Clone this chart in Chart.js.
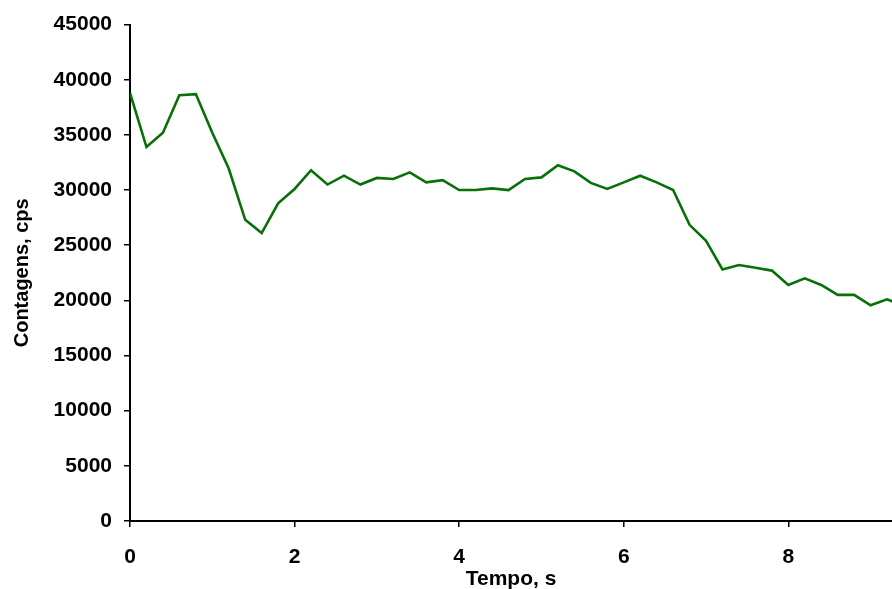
<!DOCTYPE html>
<html>
<head>
<meta charset="utf-8">
<script src="https://cdn.jsdelivr.net/npm/chart.js@4/dist/chart.umd.min.js"></script>
<style>
  html, body { margin: 0; padding: 0; background: #fff; }
  #wrap { width: 892px; height: 589px; }
</style>
</head>
<body>
<div id="wrap"><canvas id="myChart"></canvas></div>
<script>
// tempo (s) and contagens (cps)
const tempo = [0, 0.2, 0.4, 0.6, 0.8, 1.0, 1.2, 1.4, 1.6, 1.8,
    2.0, 2.2, 2.4, 2.6, 2.8, 3.0, 3.2, 3.4, 3.6, 3.8,
    4.0, 4.2, 4.4, 4.6, 4.8, 5.0, 5.2, 5.4, 5.6, 5.8,
    6.0, 6.2, 6.4, 6.6, 6.8, 7.0, 7.2, 7.4, 7.6, 7.8,
    8.0, 8.2, 8.4, 8.6, 8.8, 9.0, 9.2, 9.4]
const contagens = [38800, 33900, 35200, 38600, 38700, 35200, 31950, 27300, 26100, 28800,
    30100, 31800, 30500, 31300, 30500, 31100, 31000, 31600, 30700, 30900,
    30000, 30000, 30150, 30000, 31000, 31150, 32250, 31700, 30650, 30100,
    30700, 31300, 30700, 30000, 26850, 25400, 22800, 23200, 22950, 22700,
    21400, 22000, 21400, 20500, 20500, 19550, 20100, 19500]
const xTicks = [0, 2, 4, 6, 8]

const font = 'Liberation Sans, Arial, sans-serif'

document.addEventListener('DOMContentLoaded', () => {
    const points = tempo.map((t, i) => ({ x: t, y: contagens[i] }))
    const config = {
        type: 'line',
        data: {
            datasets: [{
                data: points,
                borderColor: '#077007',
                borderWidth: 2.6,
                pointRadius: 0,
                tension: 0,
                fill: false
            }]
        },
        options: {
            responsive: true,
            maintainAspectRatio: false,
            animation: false,
            layout: { padding: { top: 8, right: 0, left: 0, bottom: 0 } },
            plugins: { legend: { display: false }, tooltip: { enabled: false } },
            scales: {
                x: {
                    type: 'linear',
                    min: 0,
                    max: 9.26,
                    afterBuildTicks: (s) => { s.ticks = xTicks.map(v => ({ value: v })) },
                    afterFit: (s) => { s.height = 68 },
                    border: { color: '#000', width: 2 },
                    grid: { drawOnChartArea: false, drawTicks: true, tickLength: 6, color: '#000', lineWidth: 1.5 },
                    ticks: { color: '#000', padding: 18, maxRotation: 0,
                        font: { family: font, size: 21, weight: 'bold' } },
                    title: { display: true, text: 'Tempo, s', color: '#000', padding: { top: 0, bottom: -3 },
                        font: { family: font, size: 21, weight: 'bold' } }
                },
                y: {
                    min: 0,
                    max: 45000,
                    afterFit: (s) => { s.width = 130 },
                    ticks: { stepSize: 5000, color: '#000', padding: 12,
                        callback: (v) => String(v),
                        font: { family: font, size: 21, weight: 'bold' } },
                    border: { color: '#000', width: 2 },
                    grid: { drawOnChartArea: false, drawTicks: true, tickLength: 6, color: '#000', lineWidth: 1.5 },
                    title: { display: true, text: 'Contagens, cps', color: '#000', padding: { top: 10, bottom: 0 },
                        font: { family: font, size: 20, weight: 'bold' } }
                }
            }
        }
    }
    new Chart(document.querySelector('#myChart'), config)
})
</script>
</body>
</html>
